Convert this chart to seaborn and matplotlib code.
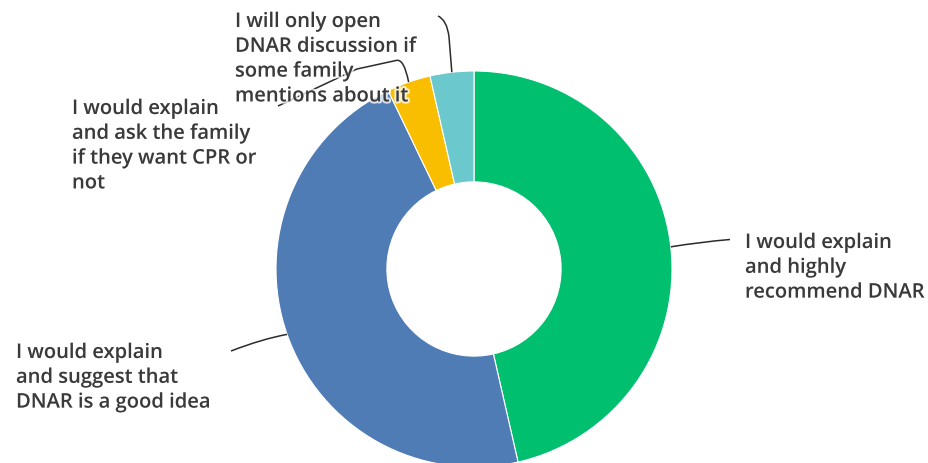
import matplotlib
matplotlib.use("Agg")
import matplotlib.pyplot as plt
from matplotlib.path import Path
from matplotlib.patches import PathPatch
import matplotlib.patheffects as pe
import numpy as np
import seaborn as sns

# Survey responses (share of respondents, %)
answers = [
    "I would explain\nand highly\nrecommend DNAR",
    "I would explain\nand suggest that\nDNAR is a good idea",
    "I would explain\nand ask the family\nif they want CPR or\nnot",
    "I will only open\nDNAR discussion if\nsome family\nmentions about it",
]
shares = [46.43, 46.43, 3.57, 3.57]
colors = ["#00BF6F", "#507CB6", "#F9BE00", "#6BC8CD"]

sns.set_theme(style="white")
plt.rcParams["font.family"] = ["Open Sans", "DejaVu Sans"]

W, H = 929, 464
fig = plt.figure(figsize=(W / 100, H / 100), dpi=100)
fig.patch.set_facecolor("white")

# donut geometry in pixels (centre and outer radius)
cx, cy, R = 474, 270, 198
ax = fig.add_axes([(cx - R) / W, (H - cy - R) / H, 2 * R / W, 2 * R / H])
wedges, _ = ax.pie(
    shares,
    colors=sns.color_palette(colors),
    startangle=90,
    counterclock=False,
    radius=1.0,
    wedgeprops=dict(width=0.56, edgecolor="white", linewidth=0.8),
)
ax.set_xlim(-1, 1)
ax.set_ylim(-1, 1)
ax.axis("off")


def to_data(x, y):
    """pixel position (from top-left) -> data coords of the donut axes"""
    return ((x - cx) / R, (cy - y) / R)


def edge_point(w):
    ang = np.deg2rad((w.theta1 + w.theta2) / 2)
    return (np.cos(ang), np.sin(ang))


line_kw = dict(facecolor="none", edgecolor="#2b2b2b", lw=1.1, zorder=5,
               clip_on=False)

# leader lines: each starts at the outer edge, mid-angle of its wedge
paths = [
    # green
    ([edge_point(wedges[0]), to_data(700, 243), to_data(730, 240.5)],
     [Path.MOVETO, Path.CURVE3, Path.CURVE3]),
    # blue
    ([edge_point(wedges[1]), to_data(262, 340), to_data(231, 352)],
     [Path.MOVETO, Path.CURVE3, Path.CURVE3]),
    # yellow
    ([edge_point(wedges[2]), to_data(404, 59), to_data(396, 61.5),
      to_data(357, 70), to_data(278, 107)],
     [Path.MOVETO, Path.CURVE3, Path.CURVE3, Path.LINETO, Path.LINETO]),
    # teal
    ([edge_point(wedges[3]), to_data(449, 38), to_data(447, 21),
      to_data(438, 17)],
     [Path.MOVETO, Path.LINETO, Path.CURVE3, Path.CURVE3]),
]
for verts, codes in paths:
    ax.add_patch(PathPatch(Path(verts, codes), **line_kw))

# label anchors: left edge / top of first line, in pixels
label_pos = [(745, 234), (16, 344), (72, 100), (235, 13)]
halo = [pe.withStroke(linewidth=3, foreground=(1, 1, 1, 0.75))]
for text, (x, y) in zip(answers, label_pos):
    fig.text(x / W, 1 - y / H, text, ha="left", va="top", fontsize=14.5,
             fontweight="semibold", color="#3a3a3a", linespacing=1.32,
             zorder=10, path_effects=halo)

fig.savefig("out.png", dpi=100, facecolor="white")
